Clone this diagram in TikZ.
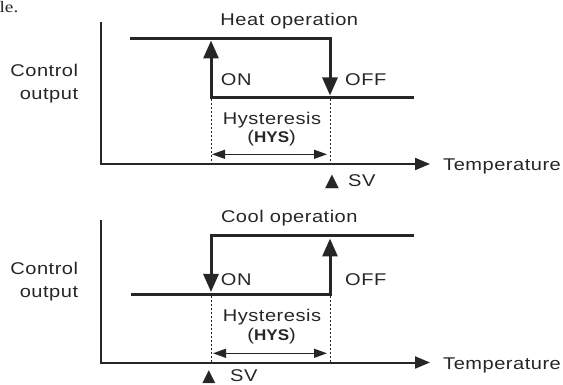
\documentclass[tikz,border=0pt]{standalone}
\usepackage{fontspec}
\setmainfont{Liberation Sans}[FakeStretch=1.18, LetterSpace=3]
\newfontfamily\serifpart{Liberation Serif}[FakeStretch=1.2]
\newfontfamily\symbfont{DejaVu Sans}
\newfontfamily\hysfont{Liberation Sans}[FakeStretch=1.1]
\usetikzlibrary{arrows.meta}
\tikzset{
    lbl/.style={inner sep=0pt, text=black!85, font=\fontsize{17}{22.6}\selectfont},
    axisline/.style={line width=2pt, black!85, -{Triangle[length=15pt,width=12pt]}},
    levelline/.style={line width=3pt, black!85, -{Triangle[length=18pt,width=15pt]}},
    guide/.style={line width=1pt, black!85, dash pattern=on 2pt off 2pt},
    band/.style={line width=1.3pt, black!85, {Triangle[length=13pt,width=9pt]}-{Triangle[length=13pt,width=9pt]}}
}
\newcommand{\hysmark}{({\hysfont\bfseries\fontsize{15.5}{17}\selectfont HYS})}

\begin{document}
\begin{tikzpicture}[x=1pt, y=-1pt]
    \useasboundingbox (0,0) rectangle (563,385);

    % cut off end of the sentence above
    \node[lbl, anchor=base east, font=\serifpart\fontsize{16}{18}\selectfont] (cutoff) at (18.5,12.8) {le.};

    % ==========================================
    % Heat operation
    % ==========================================
    \draw[axisline] (101,22.3) -- (101,164) -- (430,164);
    \node[lbl, anchor=base] (heatop) at (289.3,26) {Heat operation};
    % base of a two-line node is its last line
    \node[lbl, anchor=base east, align=right] (ctrlA) at (78.3,99.3) {Control\\output};
    \node[lbl, anchor=base west] (tempA) at (443,171) {Temperature};

    % Output: on at the low end, off at SV
    \draw[levelline] (413.6,97.7) -- (211,97.7) -- (211,40.5);
    \draw[levelline] (130,39) -- (330,39) -- (330,95.5);
    \node[lbl, anchor=base west] (onA) at (220.7,86) {ON};
    \node[lbl, anchor=base west] (offA) at (345,86) {OFF};

    % Hysteresis band
    \draw[guide] (211,99.5) -- (211,164);
    \draw[guide] (330,99.5) -- (330,164);
    \node[lbl, anchor=base] (hysA) at (272,125) {Hysteresis};
    \node[lbl, anchor=base] (hysmarkA) at (271.6,143) {\hysmark};
    \draw[band] (212,154.3) -- (327,154.3);

    % SV mark
    \node[lbl, anchor=base, font=\symbfont\fontsize{18}{20}\selectfont] (svtriA) at (332,187) {▲};
    \node[lbl, anchor=base west] (svA) at (348,186.7) {SV};

    % ==========================================
    % Cool operation
    % ==========================================
    \draw[axisline] (101,220) -- (101,362.5) -- (430,362.5);
    \node[lbl, anchor=base] (coolop) at (289.3,222.3) {Cool operation};
    \node[lbl, anchor=base east, align=right] (ctrlB) at (78.3,297.5) {Control\\output};
    \node[lbl, anchor=base west] (tempB) at (443,369.5) {Temperature};

    % Output: on at SV, off at the high end
    \draw[levelline] (413.6,236) -- (211,236) -- (211,292);
    \draw[levelline] (131,294) -- (330,294) -- (330,238.5);
    \node[lbl, anchor=base west] (onB) at (220.7,285) {ON};
    \node[lbl, anchor=base west] (offB) at (345,285) {OFF};

    % Hysteresis band
    \draw[guide] (211,295.5) -- (211,362.5);
    \draw[guide] (330,295.5) -- (330,362.5);
    \node[lbl, anchor=base] (hysB) at (272,321) {Hysteresis};
    \node[lbl, anchor=base] (hysmarkB) at (271.6,340) {\hysmark};
    \draw[band] (213,353.3) -- (327,353.3);

    % SV mark
    \node[lbl, anchor=base, font=\symbfont\fontsize{17}{19}\selectfont] (svtriB) at (209,381.5) {▲};
    \node[lbl, anchor=base west] (svB) at (230,381.5) {SV};

\end{tikzpicture}
\end{document}
